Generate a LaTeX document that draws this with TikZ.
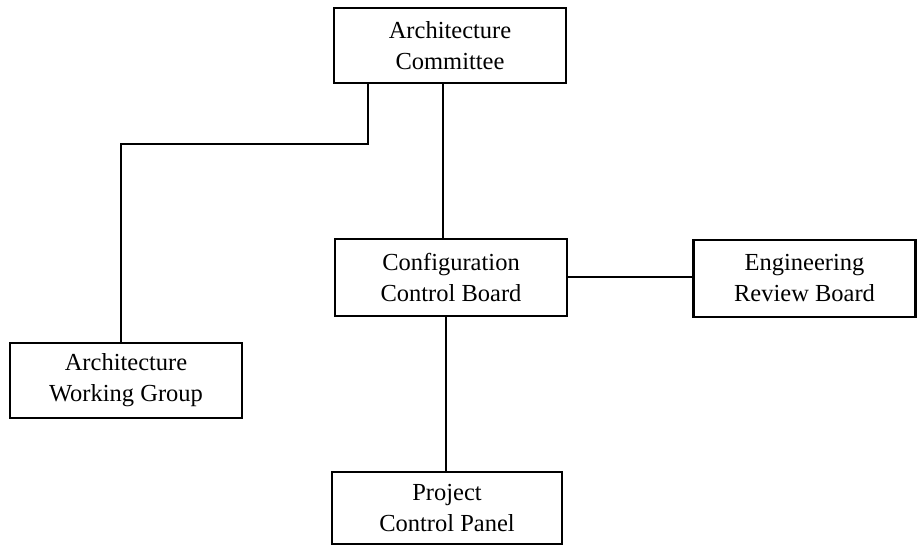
\documentclass[tikz,border=0pt]{standalone}
\usepackage{fontspec}
\setmainfont{Liberation Serif}
\begin{document}
\begin{tikzpicture}[x=1pt,y=-1pt,
  box/.style={draw,line width=2.9pt,rectangle,align=center,inner sep=0pt,
    font=\fontsize{24.5}{31}\selectfont},
  link/.style={line width=2.9pt}]
\useasboundingbox (0,0) rectangle (917,545);
% boxes
\node[box,minimum width=232pt,minimum height=75pt] (ac)  at (450,45.5)  {Architecture\\Committee};
\node[box,minimum width=232pt,minimum height=75pt] (awg) at (126,380.5) {Architecture\\Working Group};
\node[box,minimum width=232pt,minimum height=77pt] (ccb) at (451,277.5) {Configuration\\Control Board};
\node[box,minimum width=222pt,minimum height=77pt] (erb) at (804.5,278.5) {Engineering\\Review Board};
\node[box,minimum width=230pt,minimum height=72pt] (pcp) at (447,508)  {Project\\Control Panel};
% bend points of the stepped connector
\coordinate (k1) at (368,144);
\coordinate (k2) at (121,144);
% connectors
\draw[link] (ac.south -| k1) -- (k1) -- (k2) -- (k2 |- awg.north);
\draw[link] (ac.south -| 443,0) -- (ccb.north -| 443,0);
\draw[link] (ccb.east |- 0,277) -- (erb.west |- 0,277);
\draw[link] (ccb.south -| 446,0) -- (pcp.north -| 446,0);
\end{tikzpicture}
\end{document}
